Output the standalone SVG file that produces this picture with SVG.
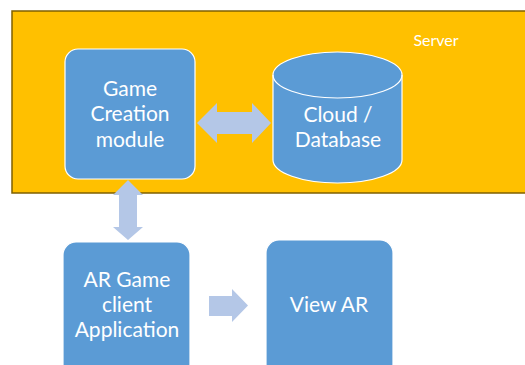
<svg xmlns="http://www.w3.org/2000/svg" width="525" height="365" viewBox="0 0 525 365">
<style>
.node{fill:#5B9BD5;stroke:#FFFFFF;stroke-width:1.2}
.lbl{font-family:Lato,"Open Sans","Liberation Sans",sans-serif;font-size:21px;fill:#FFFFFF;text-anchor:middle}
.arr{fill:#B4C7E7}
</style>
<rect width="525" height="365" fill="#FFFFFF"/>
<g id="server">
<rect x="12" y="11" width="520" height="182" fill="#FFC000" stroke="#7F6000" stroke-width="1.5"/>
<text x="436" y="46" font-family="Lato,'Open Sans','Liberation Sans',sans-serif" font-size="16" fill="#FFFFFF" text-anchor="middle">Server</text>
</g>
<g id="connectors">
<polygon class="arr" points="197,123 217,103 217,112 252,112 252,103 271,123 252,143 252,134 217,134 217,143"/>
<polygon class="arr" points="128,180 143,195 137,195 137,227 143,227 128,240 113,227 119,227 119,195 113,195"/>
<polygon class="arr" points="209,296 232,296 232,289 248,305.5 232,322 232,316 209,316"/>
</g>
<g id="game-creation">
<rect class="node" x="65" y="49" width="130" height="130" rx="13"/>
<text class="lbl" x="130" y="96">Game</text>
<text class="lbl" x="130" y="121.3">Creation</text>
<text class="lbl" x="130" y="146.6">module</text>
</g>
<g id="database">
<path class="node" d="M273,75 A64.5,23 0 0 1 402,75 L402,160 A64.5,23 0 0 1 273,160 Z"/>
<path d="M273,75 A64.5,23 0 0 0 402,75" fill="none" stroke="#FFFFFF" stroke-width="1.2"/>
<text class="lbl" x="338" y="122">Cloud /</text>
<text class="lbl" x="338" y="147.3">Database</text>
</g>
<g id="ar-client">
<rect class="node" x="63" y="242" width="127" height="135" rx="13"/>
<text class="lbl" x="127" y="286.5">AR Game</text>
<text class="lbl" x="127" y="311.8">client</text>
<text class="lbl" x="127" y="337.1">Application</text>
</g>
<g id="view-ar">
<rect class="node" x="266" y="240" width="127" height="137" rx="13"/>
<text class="lbl" x="329" y="312">View AR</text>
</g>
</svg>
